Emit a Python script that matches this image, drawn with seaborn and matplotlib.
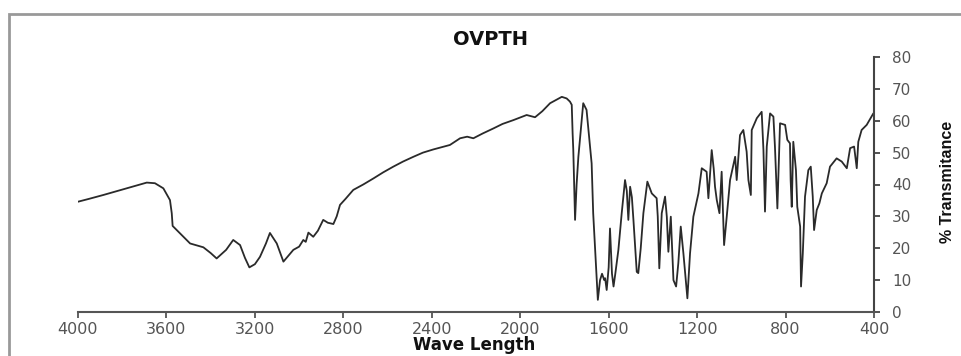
import matplotlib
matplotlib.use("Agg")
import matplotlib.pyplot as plt
import seaborn as sns
import pandas as pd
from matplotlib.patches import Rectangle

wavenumber = [4000, 3950, 3886, 3795, 3740, 3689, 3652, 3614, 3584, 3576, 3572, 3539, 3493, 3433, 3400, 3373,
              3330, 3298, 3267, 3245, 3225, 3200, 3177, 3150, 3132, 3115, 3101, 3071, 3026, 3000, 2981, 2970,
              2958, 2936, 2915, 2891, 2870, 2845, 2830, 2815, 2790, 2755, 2710, 2664, 2620, 2574, 2530, 2483,
              2440, 2393, 2350, 2318, 2272, 2240, 2212, 2170, 2121, 2080, 2031, 1971, 1933, 1900, 1865, 1812,
              1790, 1775, 1767, 1763, 1760, 1752, 1745, 1737, 1725, 1715, 1700, 1690, 1677, 1670, 1660, 1654,
              1649, 1639, 1630, 1620, 1616, 1609, 1600, 1594, 1585, 1578, 1570, 1556, 1541, 1526, 1518, 1511,
              1503, 1495, 1488, 1473, 1466, 1455, 1443, 1425, 1405, 1383, 1378, 1371, 1360, 1345, 1337, 1330,
              1319, 1307, 1295, 1285, 1274, 1262, 1244, 1232, 1217, 1194, 1179, 1157, 1149, 1134, 1125, 1119,
              1111, 1099, 1089, 1078, 1066, 1051, 1036, 1028, 1021, 1006, 991, 976, 968, 957, 953, 930,
              908, 900, 893, 885, 870, 855, 848, 837, 825, 802, 792, 780, 777, 772, 765, 753,
              747, 734, 730, 722, 712, 697, 686, 677, 671, 659, 647, 636, 614, 599, 569, 546,
              523, 508, 490, 478, 471, 456, 433, 403, 400]
transmittance = [34.6, 35.5, 36.7, 38.5, 39.6, 40.6, 40.4, 38.8, 35.1, 31.0, 27.0, 24.7, 21.5, 20.3, 18.5, 16.8,
                 19.5, 22.6, 21.0, 17.0, 14.0, 15.0, 17.3, 21.5, 24.8, 23.0, 21.5, 15.8, 19.5, 20.5, 22.6, 22.0,
                 24.9, 23.6, 25.5, 28.9, 28.0, 27.6, 30.0, 33.6, 35.5, 38.3, 40.0, 41.9, 43.8, 45.6, 47.2, 48.7,
                 50.0, 51.0, 51.8, 52.4, 54.5, 55.0, 54.5, 56.0, 57.6, 59.0, 60.2, 61.8, 61.1, 63.0, 65.5, 67.5,
                 67.0, 66.0, 65.0, 56.0, 50.8, 28.9, 40.0, 48.7, 58.0, 65.5, 63.4, 56.0, 46.6, 31.0, 18.0, 10.0,
                 3.8, 10.0, 12.0, 10.0, 10.6, 6.9, 14.0, 26.2, 12.0, 8.0, 12.0, 19.5, 31.0, 41.4, 38.0, 28.9,
                 39.3, 36.0, 28.9, 12.6, 12.2, 20.0, 31.0, 40.9, 37.2, 35.7, 30.0, 13.7, 31.0, 36.2, 29.9, 18.9,
                 29.9, 10.0, 8.0, 15.3, 26.8, 18.4, 4.3, 18.4, 29.9, 37.2, 45.1, 44.0, 35.7, 50.8, 45.0, 39.3,
                 35.1, 31.0, 44.0, 21.0, 29.9, 41.4, 46.1, 48.7, 41.4, 55.5, 57.1, 50.3, 41.4, 36.7, 57.1, 60.8,
                 62.8, 50.8, 31.5, 51.9, 62.3, 61.3, 51.9, 32.5, 59.2, 58.7, 54.0, 52.9, 41.4, 33.0, 53.4, 44.5,
                 33.0, 26.8, 8.0, 18.4, 36.2, 44.5, 45.6, 36.2, 25.7, 32.0, 34.1, 37.2, 40.4, 45.6, 48.2, 47.2,
                 45.1, 51.4, 51.9, 45.1, 53.4, 57.1, 58.7, 62.3, 61.5]

x_ticks = [4000, 3600, 3200, 2800, 2400, 2000, 1600, 1200, 800, 400]
y_ticks = [0, 10, 20, 30, 40, 50, 60, 70, 80]
title = "OVPTH"
x_label = "Wave Length"
y_label = "% Transmitance"

sns.set_theme(style="white")
plt.rcParams["font.family"] = ["DejaVu Sans"]

df = pd.DataFrame({"wavenumber": wavenumber, "transmittance": transmittance})

fig = plt.figure(figsize=(9.61, 3.56), dpi=100)
fig.patch.set_facecolor("white")
ax = fig.add_axes([78 / 961, 44 / 356, (874 - 78) / 961, (312 - 57) / 356])
ax.set_facecolor("white")

sns.lineplot(data=df, x="wavenumber", y="transmittance", ax=ax, color="#2a2a2a",
             linewidth=1.3, sort=False, estimator=None)

ax.set_xlim(4000, 400)
ax.set_ylim(0, 80)
ax.set_xticks(x_ticks)
ax.set_yticks(y_ticks)
ax.set_xlabel("")
ax.set_ylabel("")

for side in ["left", "top"]:
    ax.spines[side].set_visible(False)
ax.spines["bottom"].set_color("#555555")
ax.spines["bottom"].set_linewidth(1.5)
ax.spines["right"].set_color("#444444")
ax.spines["right"].set_linewidth(1.5)

ax.yaxis.tick_right()
ax.tick_params(axis="x", bottom=True, direction="out", length=4, width=1.3, color="#555555",
               pad=3, labelsize=11.5, labelcolor="#555555")
ax.tick_params(axis="y", right=True, left=False, direction="out", length=4, width=1.3, color="#444444",
               pad=9, labelsize=11, labelcolor="#555555")

fig.text(490 / 961, (356 - 45) / 356, title, ha="center", va="baseline",
         fontsize=14, fontweight="bold", color="#111111")
fig.text(474 / 961, (356 - 350.5) / 356, x_label, ha="center", va="baseline",
         fontsize=12, fontweight="bold", color="#111111")
fig.text(947 / 961, (356 - 182) / 356, y_label, ha="center", va="center", rotation=90,
         fontsize=11.5, color="#111111", family=["Liberation Sans", "DejaVu Sans"],
         fontweight="bold")

frame = Rectangle((9 / 961, -0.1), 1.2, (356 - 14) / 356 + 0.1, transform=fig.transFigure,
                  fill=False, edgecolor="#999999", linewidth=2, clip_on=False)
fig.add_artist(frame)

fig.savefig("out.png", dpi=100, facecolor="white")
